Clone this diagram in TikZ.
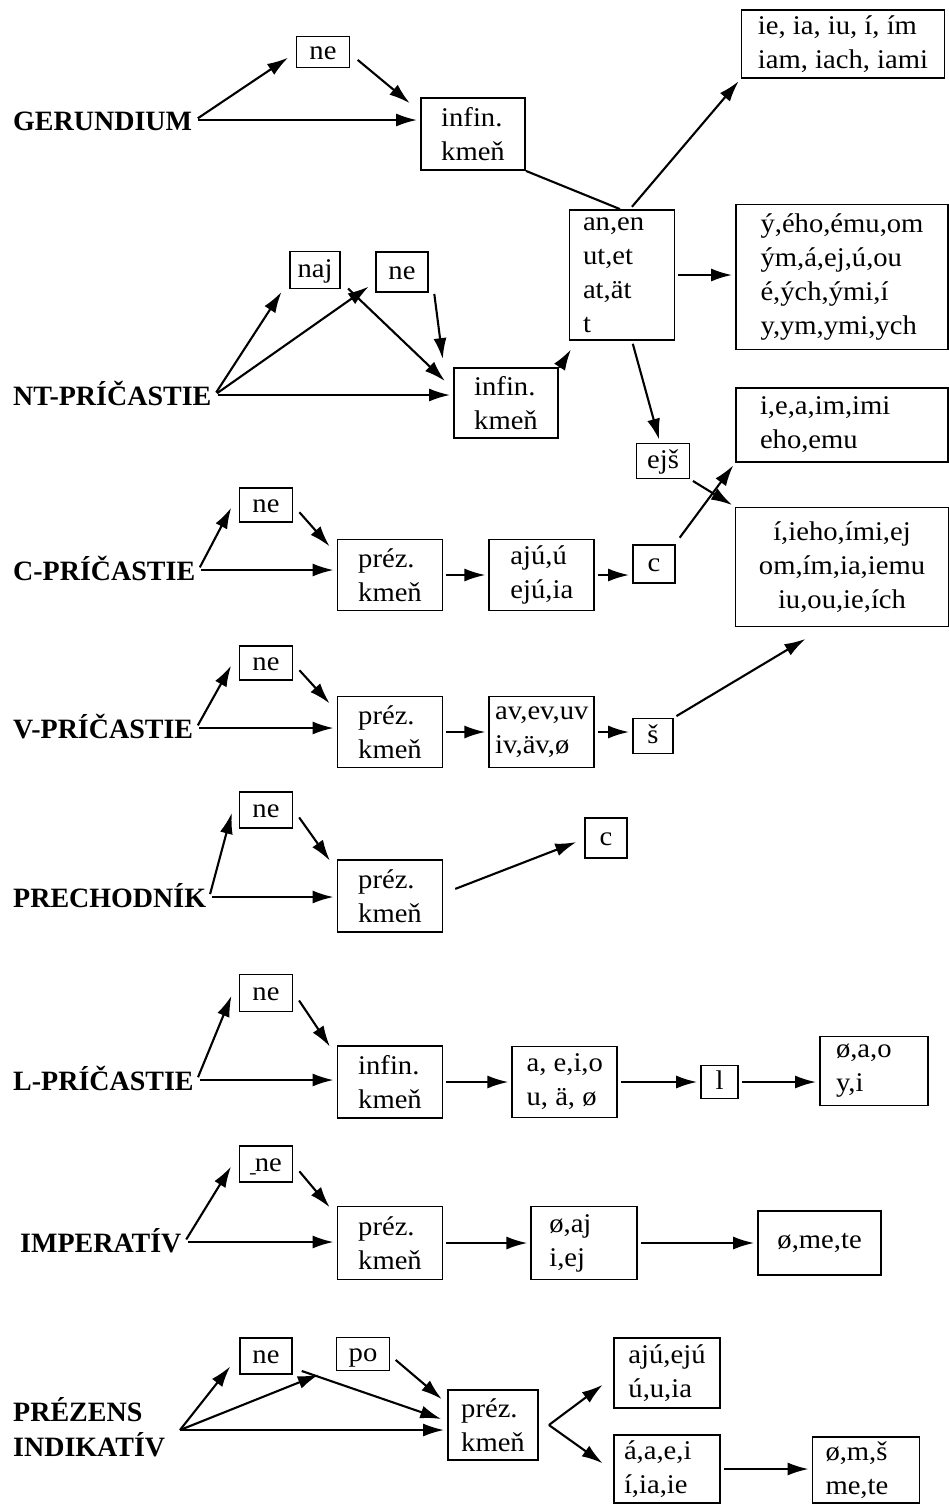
\documentclass[tikz,border=0pt]{standalone}
\usepackage{fontspec}
\setmainfont{Liberation Serif}[FakeStretch=1.06]
\newfontfamily\catfont{Liberation Serif}
\usetikzlibrary{arrows.meta}
\usetikzlibrary{positioning}
\tikzset{
  > = {Latex[length=21pt, width=13pt]},
  link/.style = {->,
                 line width = 2.1pt,
                 shorten < = 3pt,
                 shorten > = 3pt},
  catbase/.style = {font = \catfont\bfseries\fontsize{28}{35}\selectfont,
                    inner sep = 3pt},
  category/.style = {catbase,
                     anchor = west,
                     text height = 20pt,
                     text depth = 0pt},
  boxbase/.style = {rectangle,
                    draw,
                    line width = 1.8pt,
                    font = \fontsize{27}{34}\selectfont,
                    inner sep = 3pt},
  morph/.style = {boxbase,
                  align = left,
                  minimum width = 105pt,
                  minimum height = 71pt},
  prefixbox/.style = {boxbase,
                      text height = 19pt,
                      text depth = 4pt,
                      minimum width = 53pt,
                      minimum height = 35pt}
}
\begin{document}
\begin{tikzpicture}[x = 1pt, y = -1pt]
\useasboundingbox (0,0) rectangle (949,1505);

% gerundium
\node[category](cat-ger) at (10,120){GERUNDIUM};
\node[prefixbox, minimum height = 31pt](ne-ger) at (323,52){ne};
\node[morph, minimum width = 104pt, minimum height = 72pt](stem-ger) at (473,134){infin.\\kmeň};
\node[morph, minimum width = 203pt, minimum height = 68pt](end-ger) at (843,44){ie, ia, iu, í, ím\\iam, iach, iami};
\draw[link](cat-ger.east) -- ([shift = {(-5,4)}]ne-ger.west);
\draw[link]([shift = {(5,6)}]ne-ger.east) -- ([shift = {(-8,8)}]stem-ger.north west);
\draw[link](cat-ger.east) -- (cat-ger.east -| stem-ger.west);

% nt-pricastie
\node[category](cat-nt) at (10,395){NT-PRÍČASTIE};
\node[prefixbox, minimum width = 50pt, minimum height = 37pt](naj-nt) at (315,270){naj};
\node[prefixbox, minimum width = 52pt, minimum height = 40pt](ne-nt) at (402,272){ne};
\node[morph, minimum width = 104pt, minimum height = 70pt](stem-nt) at (506,403){infin.\\kmeň};
\node[morph, text width = 78pt, inner xsep = 3.5pt, minimum height = 130pt](suf-nt) at (622,275){an,en\\ut,et\\at,ät\\t};
\node[morph, minimum width = 212pt, minimum height = 145pt](end-adj) at (842,277){ý,ého,ému,om\\ým,á,ej,ú,ou\\é,ých,ými,í\\y,ym,ymi,ych};
\node[prefixbox](ejs-nt) at (663,461){ejš};
\node[morph, text width = 164pt, inner xsep = 24pt, minimum height = 74pt](end-ieho) at (842,425){i,e,a,im,imi\\eho,emu};
\node[morph, align = center, minimum width = 213pt, minimum height = 119pt](end-fem) at (842,567){í,ieho,ími,ej\\om,ím,ia,iemu\\iu,ou,ie,ích};
\draw[line width = 2.1pt](stem-ger.south east) -- ([xshift = -2pt]suf-nt.north);
\draw[link]([xshift = 8pt]suf-nt.north) -- (end-ger.south west);
\draw[link](suf-nt.east) -- (suf-nt.east -| end-adj.west);
\draw[link](cat-nt.east) -- ([xshift = -6pt]naj-nt.south west);
\draw[link](cat-nt.east) -- ([shift = {(-4,-8)}]ne-nt.south west);
\draw[link](cat-nt.east) -- (cat-nt.east -| stem-nt.west);
\draw[link]([shift = {(5,-3)}]naj-nt.south east) -- ([shift = {(-6,16)}]stem-nt.north west);
\draw[link]([shift = {(5,-2)}]ne-nt.south east) -- ([shift = {(-10,-5)}]stem-nt.north west);
\draw[link]([shift = {(2,-2)}]stem-nt.north east) -- ([shift = {(4,6)}]suf-nt.south west);
\draw[link]([xshift = 10pt]suf-nt.south) -- ([xshift = -3pt]ejs-nt.north);
\draw[link](ejs-nt.south east) -- (end-fem.north west);

% c-pricastie
\node[category](cat-c) at (10,570){C-PRÍČASTIE};
\node[prefixbox, minimum height = 34pt](ne-c) at (266,505){ne};
\node[morph](stem-c) at (390,575){préz.\\kmeň};
\node[morph](suf-c)[right = 45pt of stem-c]{ajú,ú\\ejú,ia}
  edge[link, <-](stem-c);
\node[prefixbox, minimum width = 42pt, minimum height = 38pt](c-c) at (654,564){c};
\draw[link](cat-c.east) -- ([xshift = -6pt]ne-c.west);
\draw[link]([shift = {(4,5)}]ne-c.east) -- ([shift = {(-5,10)}]stem-c.north west);
\draw[link](cat-c.east) -- (cat-c.east -| stem-c.west);
\draw[link](suf-c.east) -- (suf-c.east -| c-c.west);
\draw[link]([shift = {(2,-4)}]c-c.north east) -- (end-ieho.south west);

% v-pricastie
\node[category](cat-v) at (10,728){V-PRÍČASTIE};
\node[prefixbox, minimum height = 34pt](ne-v) at (266,663){ne};
\node[morph](stem-v) at (390,732){préz.\\kmeň};
\node[morph, inner xsep = 1pt](suf-v)[right = 45pt of stem-v]{av,ev,uv\\iv,äv,ø}
  edge[link, <-](stem-v);
\node[prefixbox, minimum width = 40pt](sh-v) at (653,736){š};
\draw[link](cat-v.east) -- ([xshift = -6pt]ne-v.west);
\draw[link]([shift = {(4,5)}]ne-v.east) -- ([shift = {(-5,10)}]stem-v.north west);
\draw[link](cat-v.east) -- (cat-v.east -| stem-v.west);
\draw[link](suf-v.east) -- (suf-v.east -| sh-v.west);
\draw[link](sh-v.north east) -- ([shift = {(-34,10)}]end-fem.south);

% prechodnik
\node[category](cat-pr) at (10,897){PRECHODNÍK};
\node[prefixbox, minimum height = 36pt](ne-pr) at (266,810){ne};
\node[morph, minimum height = 72pt](stem-pr) at (390,896){préz.\\kmeň};
\node[prefixbox, minimum width = 42pt, minimum height = 40pt](c-pr) at (606,838){c};
\draw[link](cat-pr.east) -- ([xshift = -6pt]ne-pr.west);
\draw[link]([shift = {(4,5)}]ne-pr.east) -- ([shift = {(-5,4)}]stem-pr.north west);
\draw[link](cat-pr.east) -- (cat-pr.east -| stem-pr.west);
\draw[link]([shift = {(9,-6)}]stem-pr.east) -- ([shift = {(-5,3)}]c-pr.west);

% l-pricastie
\node[category](cat-l) at (10,1080){L-PRÍČASTIE};
\node[prefixbox, minimum height = 37pt](ne-l) at (266,993){ne};
\node[morph, minimum height = 72pt](stem-l) at (390,1082){infin.\\kmeň};
\node[morph](suf-l)[right = 68pt of stem-l]{a, e,i,o\\u, ä, ø}
  edge[link, <-](stem-l);
\node[prefixbox, minimum width = 37pt, minimum height = 33pt](l-l)[right = 82pt of suf-l]{l}
  edge[link, <-](suf-l);
\node[morph, text width = 76pt, inner xsep = 16pt, minimum height = 69pt](end-l) at (874,1071){ø,a,o\\y,i};
\draw[link](cat-l.east) -- ([xshift = -6pt]ne-l.west);
\draw[link]([shift = {(4,5)}]ne-l.east) -- ([shift = {(-5,4)}]stem-l.north west);
\draw[link](cat-l.east) -- (cat-l.east -| stem-l.west);
\draw[link](l-l.east) -- (l-l.east -| end-l.west);

% imperativ
\node[category](cat-imp) at (17,1242){IMPERATÍV};
\node[prefixbox, minimum height = 36pt](ne-imp) at (266,1164){\scalebox{0.4}[1]{\_}\kern-1pt ne};
\node[morph, minimum height = 73pt](stem-imp) at (390,1243){préz.\\kmeň};
\node[morph, text width = 70pt, inner xsep = 18pt, minimum height = 73pt](suf-imp)[right = 87pt of stem-imp]{ø,aj\\i,ej}
  edge[link, <-](stem-imp);
\node[morph, minimum width = 123pt, minimum height = 64pt](end-imp)[right = 119pt of suf-imp]{ø,me,te}
  edge[link, <-](suf-imp);
\draw[link](cat-imp.east) -- ([xshift = -6pt]ne-imp.west);
\draw[link]([shift = {(4,5)}]ne-imp.east) -- ([shift = {(-5,4)}]stem-imp.north west);
\draw[link](cat-imp.east) -- (cat-imp.east -| stem-imp.west);

% prezens indikativ
\node[catbase, anchor = west, align = left](cat-pres) at (10,1427){PRÉZENS\\INDIKATÍV};
\coordinate(fan-pres) at (180,1430);
\node[prefixbox, minimum width = 52pt, minimum height = 36pt](ne-pres) at (266,1356){ne};
\node[prefixbox, minimum height = 33pt](po-pres) at (363,1354){po};
\node[morph, minimum width = 90pt, minimum height = 70pt](stem-pres) at (493,1425){préz.\\kmeň};
\node[morph, minimum width = 106pt, minimum height = 70pt](suf-pres1) at (667,1373){ajú,ejú\\ú,u,ia};
\node[morph, text width = 86pt, inner xsep = 10pt, minimum height = 68pt](suf-pres2) at (667,1469){á,a,e,i\\í,ia,ie};
\node[morph, text width = 81pt, inner xsep = 13pt, minimum height = 66pt](end-pres) at (866,1470){ø,m,š\\me,te};
\draw[link, shorten < = 0pt](fan-pres) -- ([shift = {(-7,8)}]ne-pres.west);
\draw[link, shorten < = 0pt](fan-pres) -- ([shift = {(-14,2)}]po-pres.south west);
\draw[link, shorten < = 0pt](fan-pres) -- (fan-pres -| stem-pres.west);
\draw[link]([shift = {(6,14)}]ne-pres.east) -- ([shift = {(-3,-5)}]stem-pres.west);
\draw[link]([shift = {(3,4)}]po-pres.east) -- ([shift = {(-3,12)}]stem-pres.north west);
\coordinate(fork-pres) at ([xshift = 10pt]stem-pres.east);
\draw[link, shorten < = 0pt](fork-pres) -- ([shift = {(-8,10)}]suf-pres1.west);
\draw[link, shorten < = 0pt](fork-pres) -- ([shift = {(-8,-4)}]suf-pres2.west);
\draw[link](suf-pres2.east) -- (suf-pres2.east -| end-pres.west);

\end{tikzpicture}
\end{document}
